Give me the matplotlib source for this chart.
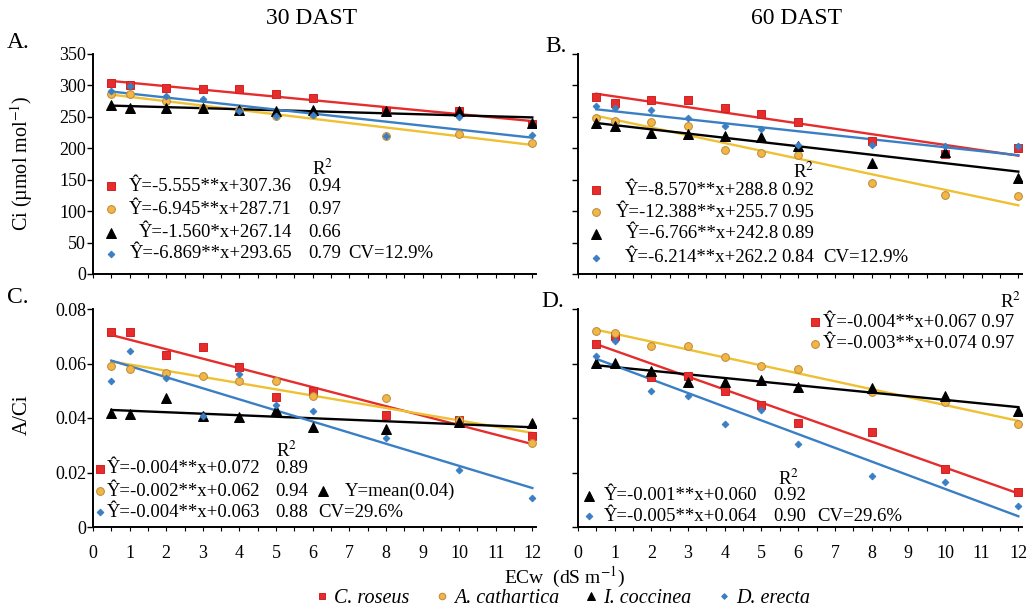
import numpy as np
import matplotlib
matplotlib.use('Agg')
import matplotlib.pyplot as plt
from matplotlib.lines import Line2D

plt.rcParams['font.family'] = ['Liberation Serif', 'DejaVu Serif']
plt.rcParams['mathtext.fontset'] = 'stix'

# ECw levels (dS m-1)
ecw = [0.5, 1, 2, 3, 4, 5, 6, 8, 10, 12]

# Ci at 30 DAST
ci30_roseus = [304.6, 300.2, 296.5, 294.9, 293.8, 286.9, 279.4, 259.0, 259.0, 238.7]
ci30_cathartica = [285.8, 285.8, 275.0, 264.4, 260.6, 252.0, 255.3, 218.8, 222.7, 209.2]
ci30_coccinea = [268.1, 264.4, 264.4, 264.4, 261.7, 259.0, 261.7, 260.1, 259.0, 240.3]
ci30_erecta = [291.0, 299.0, 283.0, 278.9, 259.0, 251.0, 253.7, 220.0, 250.0, 220.4]

# Ci at 60 DAST
ci60_roseus = [281.9, 272.4, 276.6, 276.6, 264.4, 253.8, 242.1, 210.8, 190.5, 200.2]
ci60_cathartica = [248.3, 244.0, 241.3, 234.9, 197.5, 192.1, 189.4, 144.0, 125.2, 124.1]
ci60_coccinea = [240.3, 236.0, 224.3, 223.2, 220.0, 217.9, 203.9, 176.1, 194.7, 153.0]
ci60_erecta = [267.0, 263.3, 261.7, 248.3, 234.9, 230.7, 205.5, 205.5, 203.9, 203.9]

# A/Ci at 30 DAST
aci30_roseus = [0.0717, 0.0717, 0.0631, 0.0659, 0.0588, 0.0478, 0.0500, 0.0410, 0.0393, 0.0335]
aci30_cathartica = [0.0592, 0.0580, 0.0565, 0.0553, 0.0535, 0.0537, 0.0482, 0.0472, 0.0394, 0.0307]
aci30_coccinea = [0.0418, 0.0415, 0.0472, 0.0406, 0.0403, 0.0430, 0.0368, 0.0360, 0.0386, 0.0380]
aci30_erecta = [0.0535, 0.0647, 0.0546, 0.0409, 0.0562, 0.0448, 0.0427, 0.0327, 0.0209, 0.0106]

# A/Ci at 60 DAST
aci60_roseus = [0.0672, 0.0702, 0.0550, 0.0553, 0.0500, 0.0448, 0.0381, 0.0348, 0.0213, 0.0127]
aci60_cathartica = [0.0718, 0.0712, 0.0663, 0.0665, 0.0623, 0.0592, 0.0580, 0.0497, 0.0458, 0.0378]
aci60_coccinea = [0.0602, 0.0602, 0.0574, 0.0531, 0.0533, 0.0541, 0.0513, 0.0509, 0.0482, 0.0427]
aci60_erecta = [0.0626, 0.0684, 0.0500, 0.0482, 0.0378, 0.0430, 0.0305, 0.0186, 0.0166, 0.0078]

species = ['C. roseus', 'A. cathartica', 'I. coccinea', 'D. erecta']

# regression text per panel
eq_a = ['Ŷ=-5.555**x+307.36', 'Ŷ=-6.945**x+287.71', 'Ŷ=-1.560*x+267.14', 'Ŷ=-6.869**x+293.65']
r2_a = ['0.94', '0.97', '0.66', '0.79']
eq_b = ['Ŷ=-8.570**x+288.8', 'Ŷ=-12.388**x+255.7', 'Ŷ=-6.766**x+242.8', 'Ŷ=-6.214**x+262.2']
r2_b = ['0.92', '0.95', '0.89', '0.84']
eq_c = ['Ŷ=-0.004**x+0.072', 'Ŷ=-0.002**x+0.062', 'Ŷ=-0.004**x+0.063']
r2_c = ['0.89', '0.94', '0.88']
eq_d = ['Ŷ=-0.004**x+0.067 0.97', 'Ŷ=-0.003**x+0.074 0.97', 'Ŷ=-0.001**x+0.060', 'Ŷ=-0.005**x+0.064']
r2_d = ['0.92', '0.90']

styles = [
    dict(marker='s', mfc='#e52d2d', mec='#d42020', ms=5.2, lc='#e52d2d'),
    dict(marker='o', mfc='#f3b545', mec='#b88a3a', ms=5.6, lc='#efc032'),
    dict(marker='^', mfc='black', mec='black', ms=6.5, lc='black'),
    dict(marker='D', mfc='#3a7fc4', mec='#3a7fc4', ms=3.4, lc='#3a7fc4'),
]

W, H = 1033, 608
fig = plt.figure(figsize=(W / 100, H / 100), dpi=100)


def make_ax(left, right, top, bottom):
    return fig.add_axes([left / W, 1 - bottom / H, (right - left) / W, (bottom - top) / H])


axA = make_ax(93, 536, 54, 274)
axB = make_ax(578, 1022, 54, 274)
axC = make_ax(93, 536, 309, 527)
axD = make_ax(578, 1022, 309, 527)

FS = 13.5


def draw(ax, series, ylim, yticks, ylabels, xlabels):
    xs = np.array(ecw)
    for st, y in zip(styles, series):
        k, b = np.polyfit(xs, y, 1)
        ax.plot([xs[0], xs[-1]], [k * xs[0] + b, k * xs[-1] + b], color=st['lc'], lw=1.7, zorder=2)
        ax.plot(xs, y, ls='none', marker=st['marker'], mfc=st['mfc'], mec=st['mec'],
                ms=st['ms'], mew=0.7, zorder=3)
    ax.set_xlim(0, 12.1)
    ax.set_ylim(*ylim)
    ax.set_yticks(yticks)
    ax.set_yticklabels(ylabels, fontsize=13)
    ax.set_xticks(range(0, 13))
    ax.set_xticks(np.arange(0, 12.5, 0.5), minor=True)
    if xlabels:
        ax.set_xticklabels([str(i) for i in range(13)], fontsize=13)
    else:
        ax.set_xticklabels([])
    for s in ['top', 'right']:
        ax.spines[s].set_visible(False)
    for s in ['left', 'bottom']:
        ax.spines[s].set_linewidth(1.4)
    ax.tick_params(axis='y', direction='out', length=4, width=1, pad=1)
    ax.tick_params(axis='x', which='both', direction='out', length=3, width=0.8, pad=10)
    ax.set_facecolor('none')


ci_ticks = [0, 50, 100, 150, 200, 250, 300, 350]
draw(axA, [ci30_roseus, ci30_cathartica, ci30_coccinea, ci30_erecta], (0, 350),
     ci_ticks, [str(t) for t in ci_ticks], False)
draw(axB, [ci60_roseus, ci60_cathartica, ci60_coccinea, ci60_erecta], (0, 350),
     ci_ticks, [], False)
aci_ticks = [0, 0.02, 0.04, 0.06, 0.08]
draw(axC, [aci30_roseus, aci30_cathartica, aci30_coccinea, aci30_erecta], (0, 0.08),
     aci_ticks, ['0', '0.02', '0.04', '0.06', '0.08'], True)
draw(axD, [aci60_roseus, aci60_cathartica, aci60_coccinea, aci60_erecta], (0, 0.08),
     aci_ticks, [], True)
axB.tick_params(axis='y', labelleft=False)
axD.tick_params(axis='y', labelleft=False)


def key(ax, x, y, i):
    st = styles[i]
    ax.plot([x], [y], ls='none', marker=st['marker'], mfc=st['mfc'], mec=st['mec'],
            ms=st['ms'], mew=0.7, clip_on=False, zorder=4)


# panel A annotations
rows_a = [139.7, 102.8, 65.8, 32.1]
for i, y in enumerate(rows_a):
    key(axA, 0.49, y, i)
    axA.text(5.44, y, eq_a[i], ha='right', va='center', fontsize=FS)
    axA.text(5.87, y, r2_a[i], ha='left', va='center', fontsize=FS)
axA.text(6.28, 168, 'R$^2$', ha='center', va='center', fontsize=FS)
axA.text(6.97, 32.1, 'CV=12.9%', ha='left', va='center', fontsize=FS)

# panel B annotations
rows_b = [133.3, 97.9, 64.2, 25.7]
for i, y in enumerate(rows_b):
    key(axB, 0.49, y, i)
    axB.text(5.47, y, eq_b[i], ha='right', va='center', fontsize=FS)
    axB.text(5.55, y, r2_b[i], ha='left', va='center', fontsize=FS)
axB.text(6.15, 162, 'R$^2$', ha='center', va='center', fontsize=FS)
axB.text(6.69, 25.7, 'CV=12.9%', ha='left', va='center', fontsize=FS)

# panel C annotations
rows_c = [0.0213, 0.0132, 0.0055]
for i, y in zip([0, 1, 3], rows_c):
    key(axC, 0.19, y, i)
for j, y in enumerate(rows_c):
    axC.text(0.38, y, eq_c[j], ha='left', va='center', fontsize=FS)
    axC.text(4.97, y, r2_c[j], ha='left', va='center', fontsize=FS)
axC.text(5.3, 0.0279, 'R$^2$', ha='center', va='center', fontsize=FS)
key(axC, 6.28, 0.0132, 2)
axC.text(6.89, 0.0132, 'Y=mean(0.04)', ha='left', va='center', fontsize=FS)
axC.text(6.15, 0.0055, 'CV=29.6%', ha='left', va='center', fontsize=FS)

# panel D annotations
key(axD, 6.45, 0.0752, 0)
key(axD, 6.45, 0.0672, 1)
axD.text(6.69, 0.0752, eq_d[0], ha='left', va='center', fontsize=FS)
axD.text(6.69, 0.0672, eq_d[1], ha='left', va='center', fontsize=FS)
axD.text(11.78, 0.0826, 'R$^2$', ha='center', va='center', fontsize=FS)
key(axD, 0.3, 0.0114, 2)
key(axD, 0.3, 0.0040, 3)
axD.text(0.71, 0.0114, eq_d[2], ha='left', va='center', fontsize=FS)
axD.text(0.71, 0.0040, eq_d[3], ha='left', va='center', fontsize=FS)
axD.text(5.33, 0.0114, r2_d[0], ha='left', va='center', fontsize=FS)
axD.text(5.33, 0.0040, r2_d[1], ha='left', va='center', fontsize=FS)
axD.text(5.74, 0.0176, 'R$^2$', ha='center', va='center', fontsize=FS)
axD.text(6.53, 0.0040, 'CV=29.6%', ha='left', va='center', fontsize=FS)

# titles, panel letters, axis labels
fig.text(312 / W, 1 - 18 / H, '30 DAST', ha='center', va='center', fontsize=17)
fig.text(797 / W, 1 - 18 / H, '60 DAST', ha='center', va='center', fontsize=17)
for lab, px, py in [('A.', 18, 42), ('B.', 556, 46), ('C.', 18, 298), ('D.', 553, 301)]:
    fig.text(px / W, 1 - py / H, lab, ha='center', va='center', fontsize=17)
fig.text(22 / W, 1 - 163 / H, 'Ci (µmol mol$^{-1}$)', rotation=90, ha='center', va='center', fontsize=14.5)
fig.text(22 / W, 1 - 415 / H, 'A/Ci', rotation=90, ha='center', va='center', fontsize=15)
fig.text(565 / W, 1 - 577 / H, 'ECw  (dS m$^{-1}$)', ha='center', va='center', fontsize=14)

handles = [Line2D([], [], ls='none', marker=st['marker'], mfc=st['mfc'], mec=st['mec'],
                  ms=st['ms'] * 0.85, mew=0.7) for st in styles]
fig.legend(handles, species, loc='center', bbox_to_anchor=(563 / W, 1 - 598 / H), ncol=4,
           frameon=False, prop={'family': 'Liberation Serif', 'style': 'italic', 'size': 14.5},
           handlelength=0.6, handletextpad=0.3, columnspacing=1.3, borderpad=0)

fig.savefig('out.png', dpi=100)
